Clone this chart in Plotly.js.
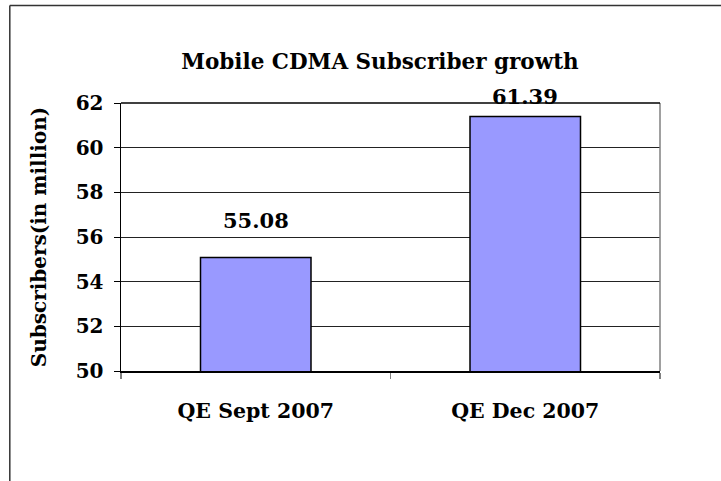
<!DOCTYPE html>
<html>
<head>
<meta charset="utf-8">
<script src="https://cdn.plot.ly/plotly-3.0.1.min.js"></script>
<style>html,body{margin:0;padding:0;background:#fff;}#chart{width:721px;height:481px;}</style>
</head>
<body>
<div id="chart"></div>
<script>
const categories = ["QE Sept 2007", "QE Dec 2007"];
const subscribers = [55.08, 61.39];
const labels = ["55.08", "61.39"];
const yTicks = [50, 52, 54, 56, 58, 60, 62];

const FONT = "DejaVu Serif, Liberation Serif, serif";
const Y_MIN = 50, Y_MAX = 62;
const PLOT_H = 268;
const pxPerUnit = PLOT_H / (Y_MAX - Y_MIN);

const trace = {
  type: "bar",
  x: categories,
  y: subscribers,
  marker: {color: "#9999FF", line: {color: "#000000", width: 1.5}},
  hoverinfo: "skip"
};

// label centre ~37px above bar top, but kept just above the top gridline
const annotations = categories.map((c, i) => ({
  x: c, xref: "x", yref: "y", y: subscribers[i],
  yshift: Math.min(37, (Y_MAX - subscribers[i]) * pxPerUnit + 6),
  text: "<b>" + labels[i] + "</b>", showarrow: false,
  yanchor: "middle",
  font: {family: FONT, size: 21, color: "#000"}
}));

const layout = {
  width: 721, height: 481,
  margin: {l: 121, r: 61, t: 103, b: 110},
  paper_bgcolor: "#ffffff", plot_bgcolor: "#ffffff",
  showlegend: false,
  bargap: 0.59,
  title: {
    text: "<b>Mobile CDMA Subscriber growth</b>",
    font: {family: FONT, size: 21.5, color: "#000"},
    x: 0.527, xref: "container", xanchor: "center",
    y: 0.872, yref: "container", yanchor: "middle"
  },
  xaxis: {
    type: "category",
    showline: true, linecolor: "#000", linewidth: 1.5,
    ticks: "outside", tickson: "boundaries", ticklen: 6, tickcolor: "#808080", tickwidth: 1.5,
    tickfont: {family: FONT, size: 20.5, color: "#000", weight: "bold"},
    showgrid: false,
    ticklabelstandoff: 21
  },
  yaxis: {
    range: [Y_MIN, Y_MAX], tickvals: yTicks, ticktext: yTicks.map(String),
    showline: true, linecolor: "#000", linewidth: 1.5,
    ticks: "outside", ticklen: 6, tickcolor: "#000",
    tickfont: {family: FONT, size: 20, color: "#000", weight: "bold"},
    ticklabelstandoff: 6,
    showgrid: true, gridcolor: "#222", gridwidth: 1,
    zeroline: false,
    title: {text: "<b>Subscribers(in million)</b>", font: {family: FONT, size: 20, color: "#000"}, standoff: 23}
  },
  annotations: annotations,
  shapes: [
    {type: "line", xref: "paper", yref: "paper", x0: 1, x1: 1, y0: 0, y1: 1, line: {color: "#808080", width: 1.5}},
    {type: "line", xref: "paper", yref: "paper", x0: 0, x1: 1, y0: 1, y1: 1, line: {color: "#000", width: 1.5}},
    {type: "line", xref: "paper", yref: "paper", x0: -0.2063, x1: 1.12, y0: 1.3638, y1: 1.3638, line: {color: "#333", width: 1.5}},
    {type: "line", xref: "paper", yref: "paper", x0: -0.2063, x1: -0.2063, y0: 1.3638, y1: -0.42, line: {color: "#333", width: 1.5}}
  ]
};

Plotly.newPlot("chart", [trace], layout, {displayModeBar: false, staticPlot: true});
</script>
</body>
</html>
